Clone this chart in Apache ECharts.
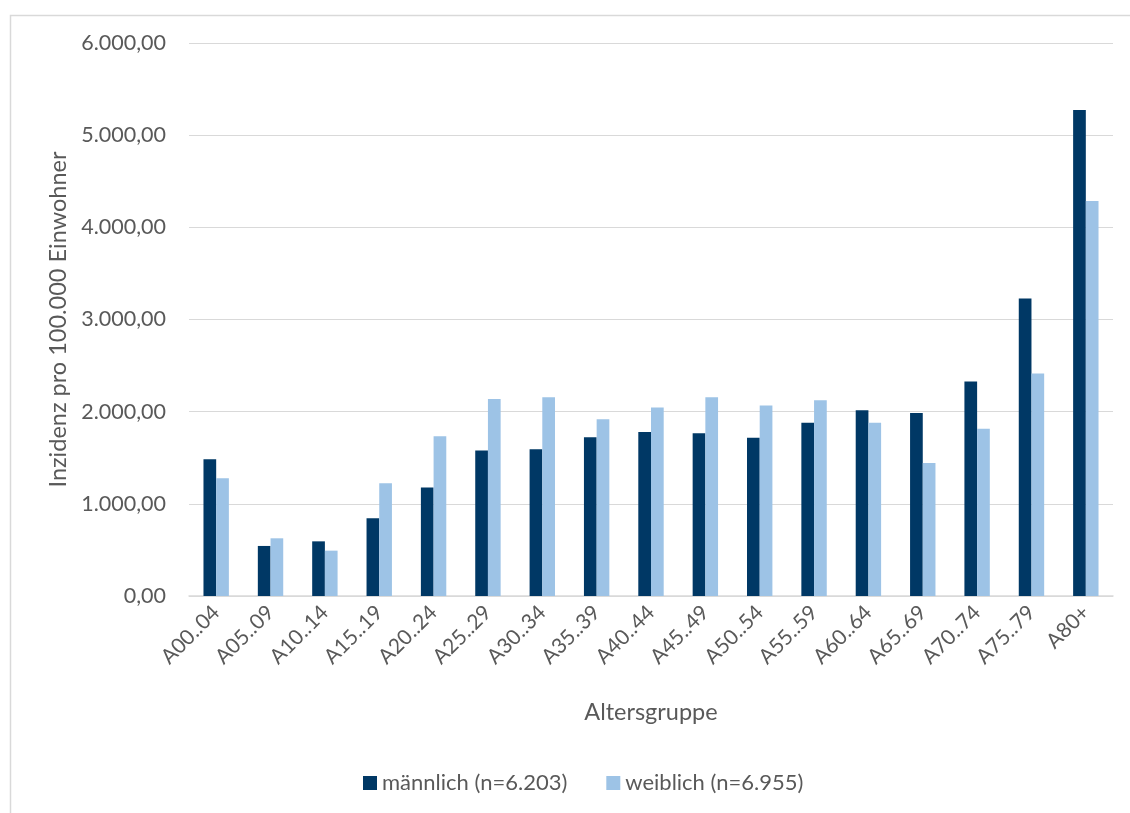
<!DOCTYPE html>
<html>
<head>
<meta charset="utf-8">
<style>
  html, body { margin: 0; padding: 0; background: #ffffff; }
  #chart { width: 1130px; height: 813px; }
</style>
<script src="https://cdn.jsdelivr.net/npm/echarts@6/dist/echarts.min.js"></script>
</head>
<body>
<div id="chart"></div>
<script>
// Age groups (x-axis categories)
const ageGroups = ['A00..04', 'A05..09', 'A10..14', 'A15..19', 'A20..24', 'A25..29', 'A30..34',
  'A35..39', 'A40..44', 'A45..49', 'A50..54', 'A55..59', 'A60..64', 'A65..69', 'A70..74',
  'A75..79', 'A80+'];

// Incidence per 100,000 inhabitants
const maleValues = [1483, 543, 593, 843, 1176, 1578, 1592, 1722, 1779, 1765, 1718, 1881,
  2015, 1986, 2326, 3227, 5273];
const femaleValues = [1277, 626, 492, 1223, 1733, 2138, 2156, 1917, 2044, 2156, 2066, 2123,
  1881, 1443, 1816, 2413, 4286];

const seriesNames = ['männlich (n=6.203)', 'weiblich (n=6.955)'];
const yAxisTitle = 'Inzidenz pro 100.000 Einwohner';
const xAxisTitle = 'Altersgruppe';

const FONT = 'Lato, "Open Sans", sans-serif';
const TEXT = '#595959';
const LINE = '#d9d9d9';

// German number format: 1.000,00
function fmt(v) {
  const parts = v.toFixed(2).split('.');
  parts[0] = parts[0].replace(/\B(?=(\d{3})+(?!\d))/g, '.');
  return parts.join(',');
}

const chart = echarts.init(document.getElementById('chart'), null, { renderer: 'canvas' });
chart.setOption({
  animation: false,
  backgroundColor: '#ffffff',
  textStyle: { fontFamily: FONT, color: TEXT },
  graphic: [{
    type: 'rect',
    left: 8, top: 13,
    shape: { width: 1300, height: 900 },
    style: { fill: 'none', stroke: LINE, lineWidth: 1.5 },
    silent: true
  }],
  grid: { left: 189, right: 17, top: 43, bottom: 217, containLabel: false },
  legend: {
    left: 358, top: 767,
    itemWidth: 14, itemHeight: 14, itemGap: 39,
    icon: 'rect',
    textStyle: { fontFamily: FONT, fontSize: 22, color: TEXT },
    data: seriesNames
  },
  xAxis: {
    type: 'category',
    data: ageGroups,
    name: xAxisTitle,
    nameLocation: 'middle',
    nameGap: 104,
    nameTextStyle: { fontFamily: FONT, fontSize: 23.5, color: TEXT },
    axisLine: { lineStyle: { color: LINE, width: 1.5 } },
    axisTick: { show: false },
    axisLabel: { rotate: 45, margin: 13, fontFamily: FONT, fontSize: 21, color: TEXT, interval: 0 }
  },
  yAxis: {
    type: 'value',
    min: 0, max: 6000, interval: 1000,
    name: yAxisTitle,
    nameLocation: 'middle',
    nameGap: 118,
    nameTextStyle: { fontFamily: FONT, fontSize: 23.5, color: TEXT },
    axisLine: { show: false },
    axisTick: { show: false },
    splitLine: { lineStyle: { color: LINE, width: 1.2 } },
    axisLabel: { margin: 23, fontFamily: FONT, fontSize: 21.5, color: TEXT, formatter: fmt }
  },
  series: [
    {
      name: seriesNames[0], type: 'bar', data: maleValues,
      barWidth: 12.7, barGap: '0%',
      itemStyle: { color: '#003865' }
    },
    {
      name: seriesNames[1], type: 'bar', data: femaleValues,
      barWidth: 12.7, barGap: '0%',
      itemStyle: { color: '#9dc3e6' }
    }
  ]
});
</script>
</body>
</html>
